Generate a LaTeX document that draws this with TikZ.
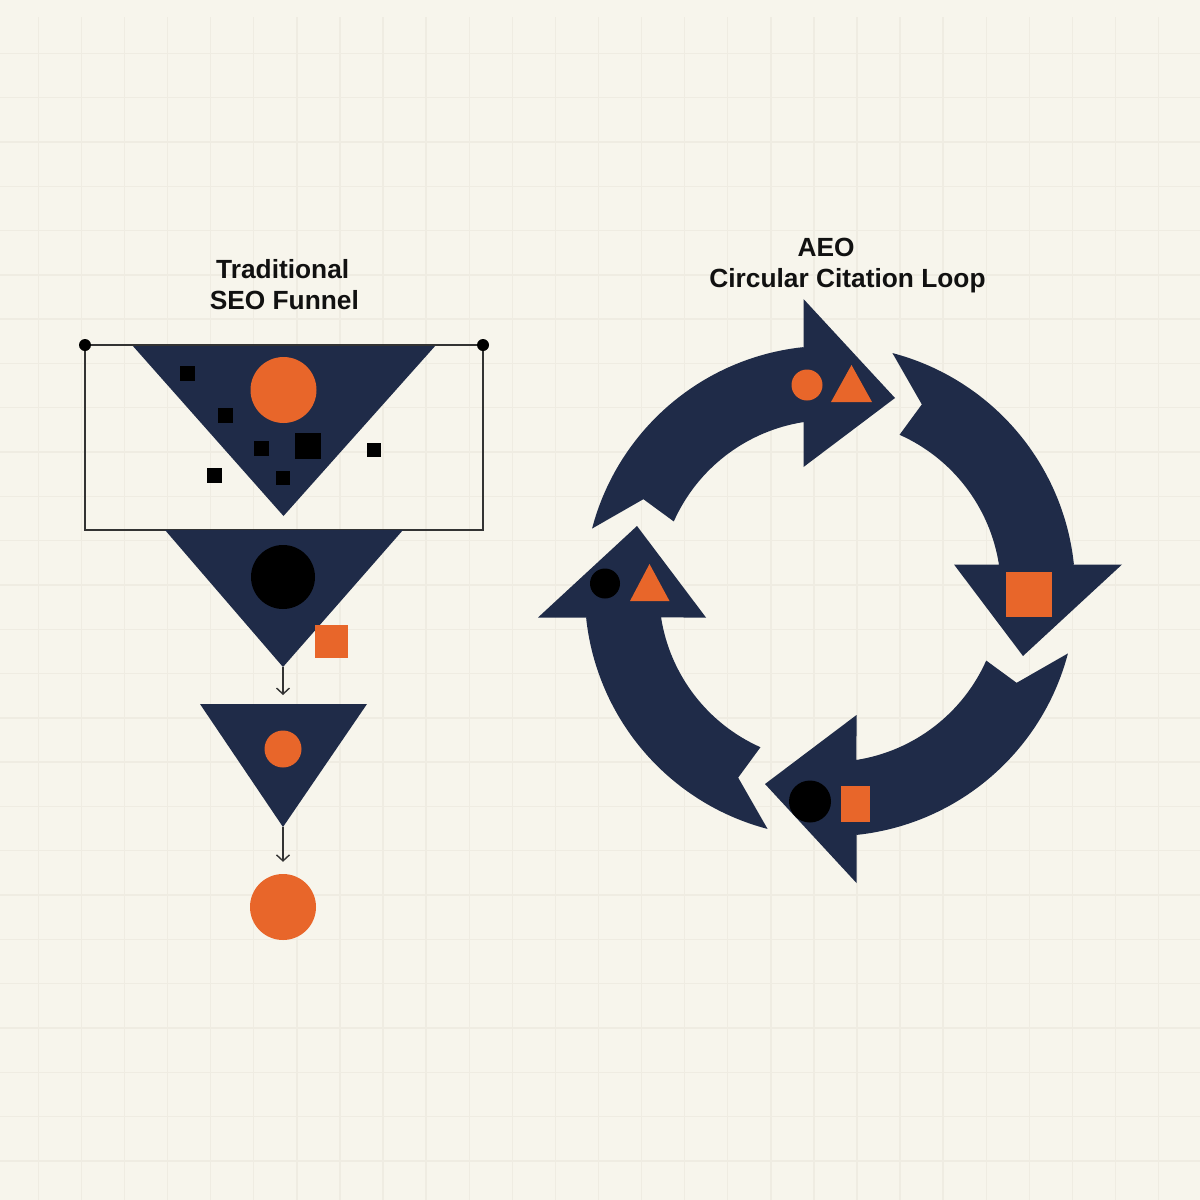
\documentclass[tikz,border=0pt]{standalone}
\usepackage{fontspec}
\setmainfont{Liberation Sans}
\newfontfamily\titlefont{Liberation Sans}
\usetikzlibrary{arrows.meta}
\definecolor{bgc}{HTML}{F7F5EC}
\definecolor{gridc}{HTML}{EFECE2}
\definecolor{navy}{HTML}{1F2B48}
\definecolor{orng}{HTML}{E8662A}
\definecolor{linec}{HTML}{333333}
\definecolor{txtc}{HTML}{111111}
\begin{document}
\begin{tikzpicture}[x=1pt,y=-1pt,
  gridline/.style={draw=gridc, line width=1.4pt},
  title/.style={font=\titlefont\bfseries\fontsize{26.3}{30}\selectfont, anchor=base, inner sep=0pt, text=txtc},
  dotnode/.style={circle, fill=black, minimum size=12pt, inner sep=0pt},
  orangedisc/.style={circle, fill=orng, inner sep=0pt},
  blackdisc/.style={circle, fill=black, inner sep=0pt},
  conn/.style={draw=linec, line width=1.4pt, -{Straight Barb[length=6pt,width=13pt]}},
  frame/.style={draw=linec, line width=1.8pt},
  ringarrow/.style={fill=navy},
]
\fill[bgc] (0,0) rectangle (1200,1200);
\useasboundingbox (0,0) rectangle (1200,1200);
\foreach \k in {0,...,26} \draw[gridline] ({38.3+43.09*\k},17) -- ({38.3+43.09*\k},1200);
\foreach \k in {0,...,25} \draw[gridline] (0,{53.3+44.3*\k}) -- (1200,{53.3+44.3*\k});

% ---------- Traditional SEO funnel ----------
\fill[navy] (132,345) -- (436,345) -- (283.5,516) -- cycle;
\node[orangedisc, minimum size=66pt] (topdisc) at (283.5,390) {};
\foreach \px/\py/\s in {180/366/15, 218/408/15, 254/441/15, 276/471/14, 207/468/15, 367/443/14, 295/433/26}
  \fill[black] (\px,\py) rectangle ++(\s,\s);
\draw[frame] (85,345) rectangle (483,530);
\node[dotnode] (dotL) at (85,345) {};
\node[dotnode] (dotR) at (483,345) {};

\fill[navy] (165,530) -- (403,530) -- (283,667) -- cycle;
\coordinate (apex2) at (283,667);
\node[blackdisc, minimum size=64pt] (middisc) at (283,577) {};
\fill[orng] (315,625) rectangle (348,658);

\fill[navy] (200,704) -- (367,704) -- (283,827) -- cycle;
\coordinate (t3top) at (283,704);
\coordinate (apex3) at (283,827);
\node[orangedisc, minimum size=37pt] (smalldisc) at (283,749) {};

\node[orangedisc, minimum size=66pt] (final) at (283,907) {};

\draw[conn, shorten >=9pt] (apex2) -- (t3top);
\draw[conn, shorten >=12pt] (apex3) -- (final);

% ---------- AEO loop ----------
\foreach \k in {0,1,2,3} {
  \begin{scope}[shift={(830,591)}, yscale=-1, rotate=90*\k]
    \fill[ringarrow] (96.21:245) -- (-26.5,292) -- (65,193) -- (-26.5,124) -- (98.91:171)
      arc[start angle=98.91, end angle=156, radius=171] -- (153.8:208) -- (165.3:246)
      arc[start angle=165.3, end angle=96.21, radius=245] -- cycle;
  \end{scope}
}
\node[orangedisc, minimum size=31pt] (dTop) at (807,385) {};
\fill[orng] (831,402) -- (872,402) -- (851.5,365) -- cycle;
\fill[orng] (1006,572) rectangle (1052,617);
\node[blackdisc, minimum size=42pt] (dBot) at (810,801.5) {};
\fill[orng] (841,786) rectangle (870,822);
\node[blackdisc, minimum size=30pt] (dLeft) at (605,583.5) {};
\fill[orng] (630,601) -- (669.5,601) -- (649.5,564) -- cycle;

% ---------- titles ----------
\node[title] (tL1) at (282.7,278.3) {Traditional};
\node[title] (tL2) at (284.3,309) {SEO Funnel};
\node[title] (tR1) at (826,256) {AEO};
\node[title] (tR2) at (847.5,287.7) {Circular Citation Loop};
\end{tikzpicture}
\end{document}
